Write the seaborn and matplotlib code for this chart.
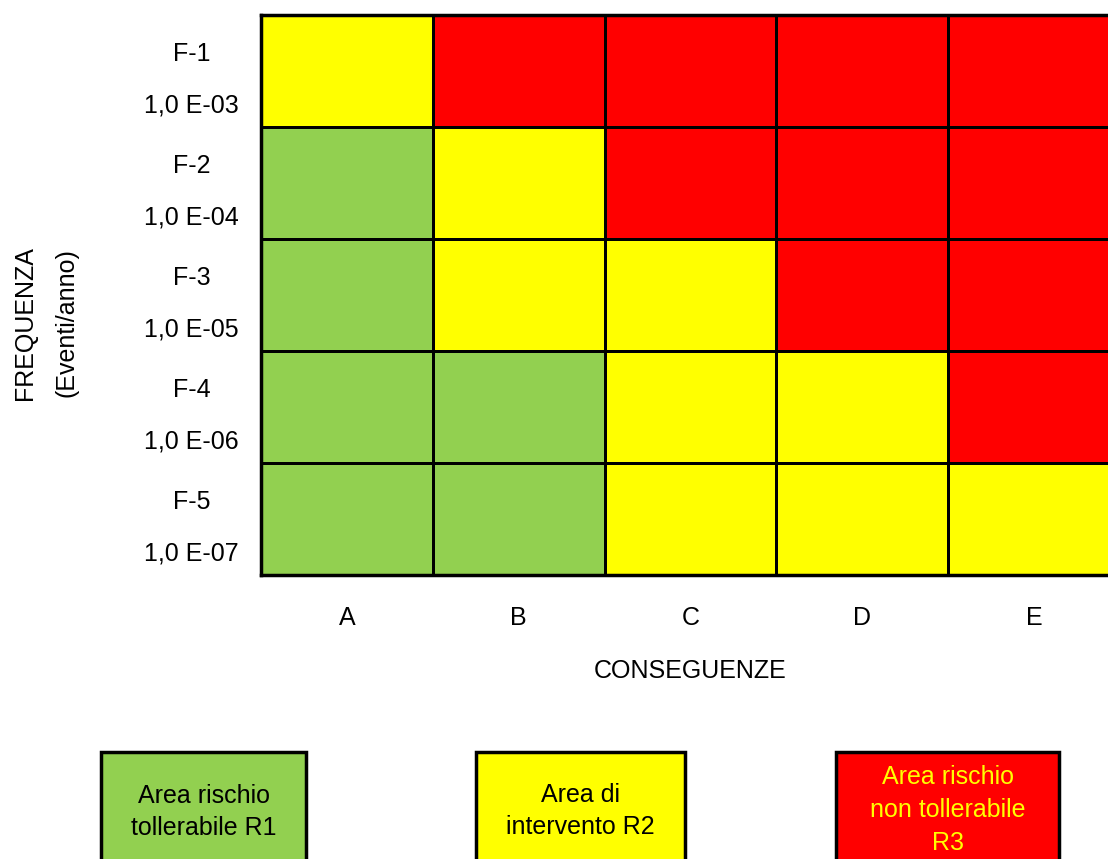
import matplotlib
matplotlib.use("Agg")
import matplotlib.pyplot as plt
import matplotlib.transforms as mtransforms
import seaborn as sns
import numpy as np
import pandas as pd
from matplotlib.colors import ListedColormap
from matplotlib.patches import Rectangle

sns.set_style("white")
plt.rcParams['font.family'] = ['Liberation Sans', 'DejaVu Sans']
plt.rcParams['text.color'] = 'black'

# Data
freq_codes = ["F-1", "F-2", "F-3", "F-4", "F-5"]
freq_values = ["1,0 E-03", "1,0 E-04", "1,0 E-05", "1,0 E-06", "1,0 E-07"]
consequences = ["A", "B", "C", "D", "E"]
row_f1 = [2, 3, 3, 3, 3]
row_f2 = [1, 2, 3, 3, 3]
row_f3 = [1, 2, 2, 3, 3]
row_f4 = [1, 1, 2, 2, 3]
row_f5 = [1, 1, 2, 2, 2]
legend_labels = ["Area rischio\ntollerabile R1", "Area di\nintervento R2",
                 "Area rischio\nnon tollerabile\nR3"]

green, yellow, red = "#92D050", "#FFFF00", "#FF0000"
row_labels = [f"{c}\n{v}" for c, v in zip(freq_codes, freq_values)]
df = pd.DataFrame([row_f1, row_f2, row_f3, row_f4, row_f5],
                  index=row_labels, columns=consequences)

W, H = 1108, 859
fig = plt.figure(figsize=(W / 100, H / 100), dpi=100)
ax = fig.add_axes([261 / W, 1 - 575 / H, (1120 - 261) / W, 560 / H])

sns.heatmap(df, ax=ax, cmap=ListedColormap([green, yellow, red]),
            vmin=0.5, vmax=3.5, cbar=False, linewidths=2, linecolor="black")
for s in ax.spines.values():
    s.set_visible(True)
    s.set_linewidth(2.5)
    s.set_color("black")

ax.tick_params(axis="both", length=0, colors="black")
ax.tick_params(axis="y", pad=16)
ax.tick_params(axis="x", pad=22)
ax.set_yticklabels(row_labels, rotation=0, fontsize=18, linespacing=2.45,
                   ha="right", multialignment="center", color="black")
ax.set_xticklabels(consequences, fontsize=18, color="black")
offset = mtransforms.ScaledTranslation(0, -9 / 100, fig.dpi_scale_trans)
for t in ax.get_yticklabels():
    t.set_transform(t.get_transform() + offset)
ax.set_xlabel("")
ax.set_ylabel("")

fig.text(690 / W, 1 - 671 / H, "CONSEGUENZE", ha="center", va="center", fontsize=18)
fig.text(25 / W, 1 - 323 / H, "FREQUENZA", ha="center", va="center",
         rotation=90, fontsize=18)
fig.text(66 / W, 1 - 323 / H, "(Eventi/anno)", ha="center", va="center",
         rotation=90, fontsize=18)

# Legend boxes
boxes = [(101, 306, green, "black", 812), (476, 685, yellow, "black", 811),
         (836, 1059, red, yellow, 810)]
top, bottom = 752, 872
for (x0, x1, fc, tc, yc), lab in zip(boxes, legend_labels):
    r = Rectangle((x0 / W, 1 - bottom / H), (x1 - x0) / W, (bottom - top) / H,
                  transform=fig.transFigure, facecolor=fc, edgecolor="black",
                  linewidth=2.5, clip_on=False)
    fig.add_artist(r)
    fig.text((x0 + x1) / 2 / W, 1 - yc / H, lab, ha="center", va="center",
             fontsize=18, color=tc, linespacing=1.45, multialignment="center")

fig.savefig("out.png", dpi=100)
